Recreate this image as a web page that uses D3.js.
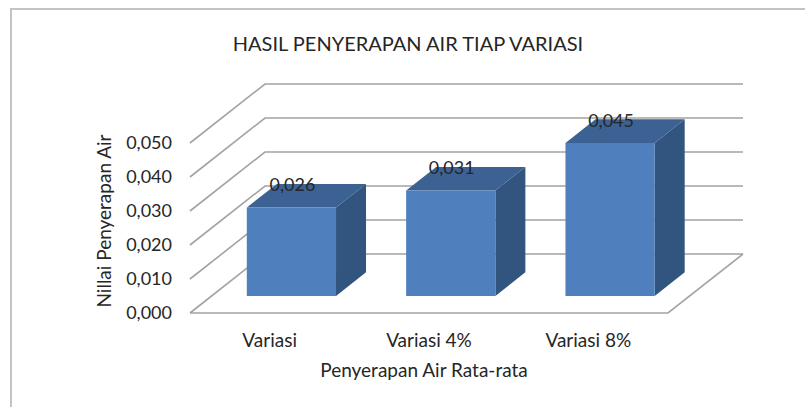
<!DOCTYPE html>
<html>
<head>
<meta charset="utf-8">
<script src="https://cdn.jsdelivr.net/npm/d3@7"></script>
<style>
  body { margin: 0; background: #fff; }
  text { font-family: Lato, "Open Sans", sans-serif; fill: #262626; }
</style>
</head>
<body>
<script>
// chart data
const categories = ["Variasi", "Variasi 4%", "Variasi 8%"];
const values = [0.026, 0.031, 0.045];
const valueLabels = ["0,026", "0,031", "0,045"];
const yTicks = [0, 0.01, 0.02, 0.03, 0.04, 0.05];

const width = 805, height = 407;
const svg = d3.select("body").append("svg")
    .attr("width", width)
    .attr("height", height);

// frame around the chart
svg.append("rect")
    .attr("x", 11).attr("y", 9)
    .attr("width", width).attr("height", height)
    .attr("fill", "none")
    .attr("stroke", "#c4c4c4")
    .attr("stroke-width", 2);

// 3d box: front-left floor corner, depth vector
const ox = 190, oy = 313;
const floorW = 478;
const depthX = 75, depthY = -59;
const fmt = d => d3.format(".3f")(d).replace(".", ",");

const x = d3.scaleBand()
    .domain(categories)
    .range([0, floorW])
    .paddingInner(0.44)
    .paddingOuter(0.22);
const y = d3.scaleLinear()
    .domain([0, 0.05])
    .range([0, 170]);

// screen point from (x along floor, value, depth 0..1)
const P = (px, v, d) => [ox + px + d * depthX, oy - y(v) + d * depthY];
const line = d3.line();

const grid = svg.append("g")
    .attr("fill", "none")
    .attr("stroke", "#a3a3a3")
    .attr("stroke-width", 1.6);

yTicks.forEach(t => {
    // side wall diagonal + back wall line
    grid.append("path")
        .attr("d", line([P(0, t, 0), P(0, t, 1), P(floorW, t, 1)]));
});
// floor front and right edges
grid.append("path")
    .attr("d", line([P(0, 0, 0), P(floorW, 0, 0), P(floorW, 0, 1)]));

// y tick labels
svg.append("g").selectAll("text")
    .data(yTicks)
    .join("text")
    .attr("x", 172)
    .attr("y", d => oy - y(d))
    .attr("dy", "0.35em")
    .attr("text-anchor", "end")
    .attr("font-size", 18)
    .text(fmt);

// bars
const d0 = 0.29, d1 = 0.69;
const bars = svg.append("g").selectAll("g")
    .data(values)
    .join("g");

bars.each(function (v, i) {
    const g = d3.select(this);
    const x0 = x(categories[i]), x1 = x0 + x.bandwidth();
    // top face
    g.append("path")
        .attr("fill", "#3c6293")
        .attr("d", line([P(x0, v, d0), P(x1, v, d0), P(x1, v, d1), P(x0, v, d1)]) + "Z");
    // side face
    g.append("path")
        .attr("fill", "#32557f")
        .attr("d", line([P(x1, 0, d0), P(x1, v, d0), P(x1, v, d1), P(x1, 0, d1)]) + "Z");
    // front face
    g.append("path")
        .attr("fill", "#4f7fbc")
        .attr("d", line([P(x0, 0, d0), P(x1, 0, d0), P(x1, v, d0), P(x0, v, d0)]) + "Z");
    // value label
    const c = P(x0 + x.bandwidth() / 2, v, d0);
    g.append("text")
        .attr("x", c[0] + 1)
        .attr("y", c[1] - 16)
        .attr("text-anchor", "middle")
        .attr("font-size", 18)
        .attr("fill", "#1a1a1a")
        .text(valueLabels[i]);
});

// category labels
svg.append("g").selectAll("text")
    .data(categories)
    .join("text")
    .attr("x", d => ox + x(d) + x.bandwidth() / 2)
    .attr("y", 347)
    .attr("text-anchor", "middle")
    .attr("font-size", 19)
    .text(d => d);

// axis titles
svg.append("text")
    .attr("x", 424).attr("y", 377)
    .attr("text-anchor", "middle")
    .attr("font-size", 19)
    .text("Penyerapan Air Rata-rata");

svg.append("text")
    .attr("transform", "translate(111,221) rotate(-90)")
    .attr("text-anchor", "middle")
    .attr("font-size", 19)
    .text("Nillai Penyerapan Air");

svg.append("text")
    .attr("x", 408).attr("y", 51)
    .attr("text-anchor", "middle")
    .attr("font-size", 20)
    .attr("fill", "#111")
    .text("HASIL PENYERAPAN AIR TIAP VARIASI");
</script>
</body>
</html>
